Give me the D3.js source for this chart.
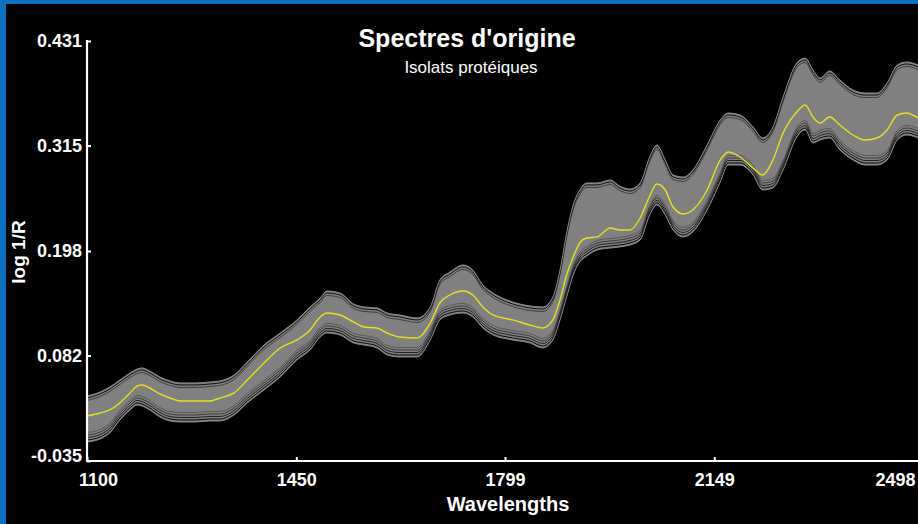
<!DOCTYPE html>
<html>
<head>
<meta charset="utf-8">
<script src="https://cdn.jsdelivr.net/npm/d3@7/dist/d3.min.js"></script>
<style>
  html, body { margin: 0; padding: 0; background: #000; overflow: hidden; }
  svg { display: block; }
</style>
</head>
<body>
<svg id="chart" width="918" height="524"></svg>
<script>
// ---- Data ----
const wavelengths = [1100,1122,1138,1155,1172,1184,1192,1205,1222,1239,1256,1281,1306,1322,1346,1368,1396,1423,1451,1473,1490,1501,1523,1546,1563,1585,1602,1623,1652,1674,1690,1707,1729,1745,1762,1779,1812,1841,1862,1879,1891,1903,1913,1924,1936,1953,1975,1991,2008,2025,2041,2053,2067,2080,2097,2113,2137,2159,2172,2192,2214,2230,2247,2264,2287,2301,2314,2326,2342,2359,2381,2401,2421,2438,2455,2471,2490,2498];

const meanSpectrum = [0.0150,0.0183,0.0216,0.0294,0.0405,0.0482,0.0493,0.0460,0.0394,0.0349,0.0316,0.0316,0.0316,0.0349,0.0405,0.0549,0.0738,0.0904,0.0993,0.1104,0.1248,0.1292,0.1270,0.1192,0.1137,0.1126,0.1070,0.1026,0.1015,0.1181,0.1403,0.1492,0.1536,0.1492,0.1359,0.1270,0.1215,0.1159,0.1126,0.1215,0.1437,0.1736,0.1914,0.2069,0.2124,0.2136,0.2235,0.2213,0.2213,0.2346,0.2590,0.2724,0.2657,0.2468,0.2391,0.2435,0.2657,0.2990,0.3079,0.3023,0.2901,0.2823,0.2990,0.3289,0.3522,0.3600,0.3467,0.3400,0.3467,0.3378,0.3267,0.3212,0.3234,0.3323,0.3489,0.3511,0.3456,0.3434];

const upperSpectrum = [0.0371,0.0416,0.0471,0.0549,0.0627,0.0671,0.0682,0.0649,0.0582,0.0538,0.0516,0.0516,0.0527,0.0538,0.0604,0.0749,0.0937,0.1070,0.1215,0.1359,0.1459,0.1536,0.1514,0.1392,0.1359,0.1348,0.1292,0.1270,0.1237,0.1359,0.1658,0.1747,0.1825,0.1769,0.1603,0.1514,0.1414,0.1370,0.1359,0.1470,0.1769,0.2213,0.2491,0.2657,0.2735,0.2735,0.2768,0.2701,0.2668,0.2735,0.3023,0.3156,0.2990,0.2823,0.2801,0.2879,0.3156,0.3434,0.3511,0.3489,0.3356,0.3234,0.3356,0.3689,0.4066,0.4121,0.3988,0.3900,0.3977,0.3877,0.3766,0.3733,0.3733,0.3844,0.4044,0.4077,0.4044,0.4022];

const lowerSpectrum = [-0.0139,-0.0106,-0.0039,0.0105,0.0216,0.0272,0.0260,0.0216,0.0138,0.0094,0.0083,0.0083,0.0094,0.0094,0.0161,0.0294,0.0438,0.0582,0.0771,0.0882,0.1026,0.1070,0.1048,0.0959,0.0937,0.0904,0.0826,0.0804,0.0804,0.0993,0.1215,0.1270,0.1292,0.1248,0.1126,0.1048,0.0993,0.0959,0.0904,0.0993,0.1215,0.1492,0.1714,0.1858,0.1925,0.1991,0.2013,0.2025,0.2047,0.2102,0.2380,0.2491,0.2380,0.2213,0.2136,0.2191,0.2435,0.2746,0.2934,0.2934,0.2823,0.2657,0.2679,0.2879,0.3245,0.3323,0.3178,0.3212,0.3234,0.3101,0.2990,0.2934,0.2934,0.2990,0.3212,0.3267,0.3234,0.3212];

const yTickValues = [-0.035, 0.082, 0.198, 0.315, 0.431];
const xTickValues = [1100, 1450, 1799, 2149, 2498];

const titleText = "Spectres d'origine";
const subtitleText = "Isolats protéiques";
const xLabelText = "Wavelengths";
const yLabelText = "log 1/R";

// ---- Drawing ----
const W = 918, H = 524;
const svg = d3.select("#chart");

// window frame
svg.append("rect").attr("x", 0).attr("y", 0).attr("width", W).attr("height", H).attr("fill", "#0a6fbf");
svg.append("rect").attr("x", 6).attr("y", 4).attr("width", W - 6).attr("height", H - 4).attr("fill", "#000");

const x = d3.scaleLinear().domain([1100, 2498]).range([87, 923]);
const y = d3.scaleLinear().domain([-0.035, 0.431]).range([461, 41]);

const rows = wavelengths.map((w, i) => ({ w, m: meanSpectrum[i], u: upperSpectrum[i], l: lowerSpectrum[i] }));

svg.append("defs").append("clipPath").attr("id", "plotclip")
  .append("rect").attr("x", 87).attr("y", 30).attr("width", 840).attr("height", 431);

const plot = svg.append("g").attr("clip-path", "url(#plotclip)");
const curve = d3.curveMonotoneX;

const area = d3.area().x(d => x(d.w)).y0(d => y(d.l)).y1(d => y(d.u)).curve(curve);
const upperLine = d3.line().x(d => x(d.w)).y(d => y(d.u)).curve(curve);
const lowerLine = d3.line().x(d => x(d.w)).y(d => y(d.l)).curve(curve);
const meanLine = d3.line().x(d => x(d.w)).y(d => y(d.m)).curve(curve);

plot.append("path").datum(rows).attr("d", area).attr("fill", "#808080");

// dark gaps between the outermost spectra at the band edges
[[2, 0.9], [4.5, 0.5]].forEach(([dy, op]) => {
  plot.append("path").datum(rows).attr("d", upperLine)
    .attr("transform", `translate(0,${dy})`)
    .attr("fill", "none").attr("stroke", "#000").attr("stroke-width", 1).attr("stroke-opacity", op);
});
[[2, 0.95], [4.5, 0.75], [7, 0.55], [9.5, 0.3]].forEach(([dy, op]) => {
  plot.append("path").datum(rows).attr("d", lowerLine)
    .attr("transform", `translate(0,${-dy})`)
    .attr("fill", "none").attr("stroke", "#000").attr("stroke-width", 1).attr("stroke-opacity", op);
});
plot.append("path").datum(rows).attr("d", upperLine)
  .attr("fill", "none").attr("stroke", "#8a8a8a").attr("stroke-width", 1);
plot.append("path").datum(rows).attr("d", lowerLine)
  .attr("fill", "none").attr("stroke", "#8a8a8a").attr("stroke-width", 1);

plot.append("path").datum(rows).attr("d", meanLine)
  .attr("fill", "none").attr("stroke", "#e0e020").attr("stroke-width", 1.4);

// axes
const fontFam = "'Liberation Sans', Arial, Helvetica, sans-serif";

const yAxis = d3.axisLeft(y).tickValues(yTickValues).tickFormat(d => d.toFixed(3))
  .tickSize(-4).tickSizeOuter(0).tickPadding(5);
const gy = svg.append("g").attr("transform", "translate(87,0)").call(yAxis);

const xAxis = d3.axisBottom(x).tickValues(xTickValues).tickFormat(d => String(d))
  .tickSize(-4).tickSizeOuter(0).tickPadding(12);
const gx = svg.append("g").attr("transform", "translate(0,461)").call(xAxis);

[gx, gy].forEach(g => {
  g.select(".domain").attr("stroke", "#fff").attr("stroke-width", 2.2);
  g.selectAll(".tick line").attr("stroke", "#fff").attr("stroke-width", 2);
  g.selectAll(".tick text").attr("fill", "#fff")
    .style("font-family", fontFam).style("font-weight", "bold").style("font-size", "18px");
});
gx.select(".domain").attr("d", "M86,0H930");
gy.select(".domain").attr("d", "M0,40V462");
gy.selectAll(".tick text").filter(d => d === yTickValues[0]).attr("dy", "-0.0em");
gx.selectAll(".tick text").filter(d => d === xTickValues[0]).attr("dx", 11);
gx.selectAll(".tick text").filter(d => d === xTickValues[xTickValues.length - 1]).attr("dx", -28);

// titles
svg.append("text").attr("x", 467).attr("y", 47).attr("text-anchor", "middle")
  .attr("fill", "#fff").style("font-family", fontFam).style("font-weight", "bold").style("font-size", "25px")
  .text(titleText);
svg.append("text").attr("x", 471).attr("y", 72.5).attr("text-anchor", "middle")
  .attr("fill", "#fff").style("font-family", fontFam).style("font-size", "17px")
  .text(subtitleText);
svg.append("text").attr("x", 508).attr("y", 511).attr("text-anchor", "middle")
  .attr("fill", "#fff").style("font-family", fontFam).style("font-weight", "bold").style("font-size", "20px")
  .text(xLabelText);
svg.append("text").attr("transform", "translate(25,252) rotate(-90)").attr("text-anchor", "middle")
  .attr("fill", "#fff").style("font-family", fontFam).style("font-weight", "bold").style("font-size", "19px")
  .text(yLabelText);
</script>
</body>
</html>
